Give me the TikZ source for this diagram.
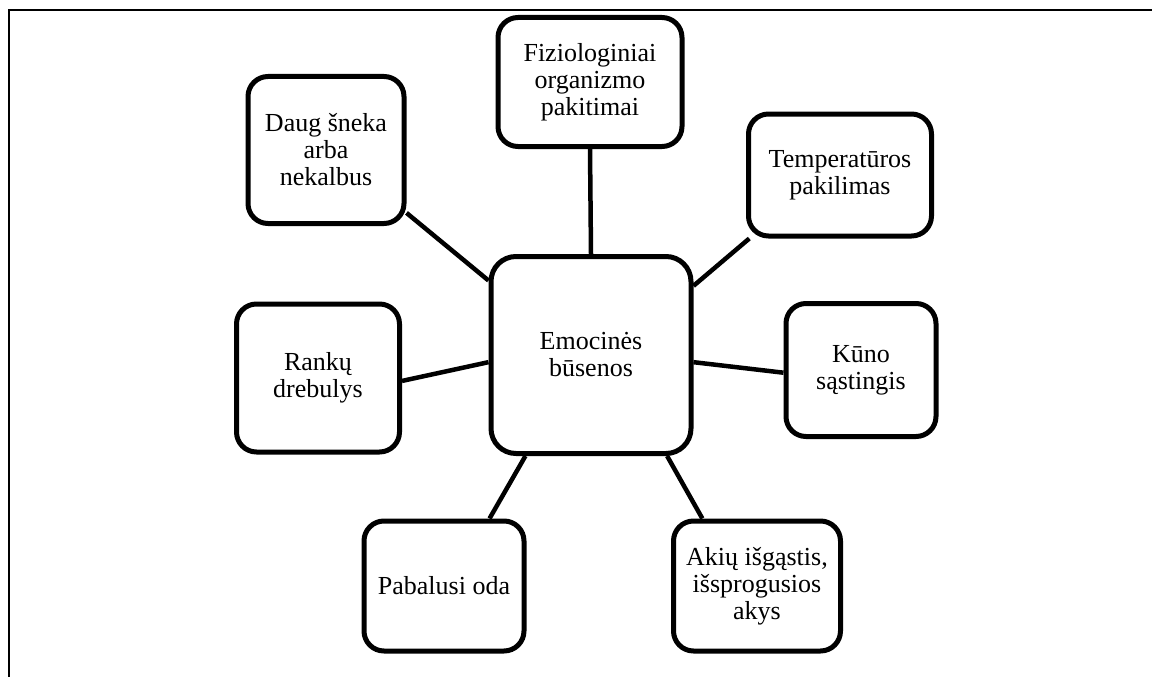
\documentclass[tikz,border=0pt]{standalone}
\usepackage{fontspec}
\setmainfont{Liberation Serif}
\usetikzlibrary{backgrounds}
\begin{document}
\begin{tikzpicture}[x=1pt,y=-1pt,
  box/.style={draw, line width=5pt, rounded corners=20pt, fill=white,
    align=center, inner sep=0pt, font=\fontsize{26}{27}\selectfont},
  link/.style={line width=4.5pt}]
\useasboundingbox (0,0) rectangle (1152,677);
\draw[line width=2.2pt] (1152,10) -- (9,10) -- (9,677);

\node[box, rounded corners=25pt, minimum width=200pt, minimum height=197pt] (c) at (591,355) {Emocinės\\būsenos};
\node[box, minimum width=184pt, minimum height=129pt] (fiz) at (590,82) {Fiziologiniai\\organizmo\\pakitimai};
\node[box, minimum width=156pt, minimum height=147pt] (daug) at (326,150) {Daug šneka\\arba\\nekalbus};
\node[box, minimum width=183pt, minimum height=122pt] (temp) at (840,175) {Temperatūros\\pakilimas};
\node[box, minimum width=150pt, minimum height=133pt] (kuno) at (861,370) {Kūno\\sąstingis};
\node[box, minimum width=163pt, minimum height=148pt] (rank) at (318,378) {Rankų\\drebulys};
\node[box, minimum width=160pt, minimum height=130pt] (pab) at (444,586) {Pabalusi oda};
\node[box, minimum width=167pt, minimum height=130pt] (akiu) at (757,586) {Akių išgąstis,\\išsprogusios\\akys};

\begin{scope}[on background layer]
\draw[link] (c.north) -- (fiz.south);
\draw[link] (c.144) -- (daug.-38.6);
\draw[link] (c.34) -- (temp.215.9);
\draw[link] (c.-4) -- (kuno.182);
\draw[link] (c.184.5) -- (rank.-2);
\draw[link] (c.-123) -- (pab.56.3);
\draw[link] (c.-53) -- (akiu.129.3);
\end{scope}
\end{tikzpicture}
\end{document}
